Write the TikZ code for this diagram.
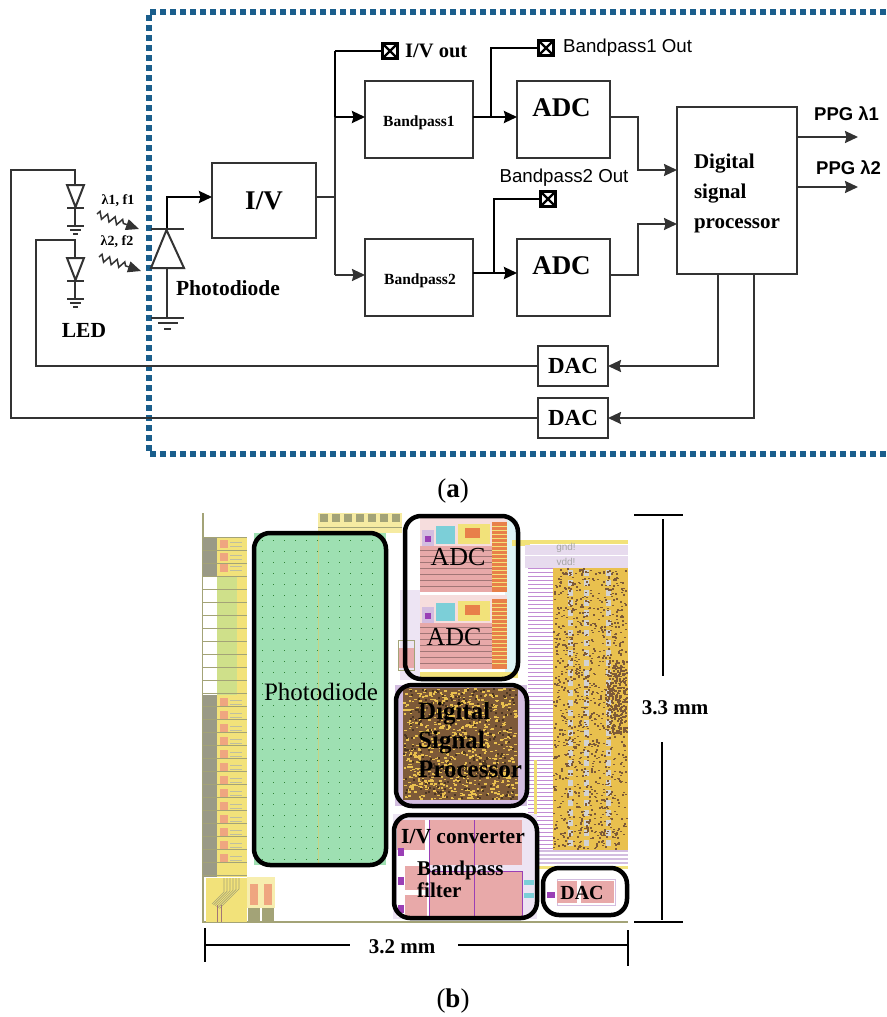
\documentclass[tikz,border=0pt]{standalone}
\usepackage{fontspec}
\setmainfont{Liberation Serif}
\newfontfamily\sansfont{Liberation Sans}
\usetikzlibrary{arrows.meta}
\usetikzlibrary{decorations.pathmorphing}

\definecolor{dashblue}{HTML}{1A5E8C}
\definecolor{wiregray}{HTML}{333333}
\definecolor{pdgreen}{HTML}{9EE0B2}
\definecolor{chippink}{HTML}{E8A9A9}
\definecolor{chipgold}{HTML}{E9C04E}
\definecolor{chipbrown}{HTML}{7D5A38}
\definecolor{chiplilac}{HTML}{D3BDE0}
\definecolor{chipyellow}{HTML}{F2E27A}
\definecolor{chipolive}{HTML}{A3A377}
\definecolor{chipgreen}{HTML}{CFE08A}
\definecolor{chipgrey}{HTML}{9A9A86}
\definecolor{chippurple}{HTML}{9A3FB5}
\definecolor{chiporange}{HTML}{E8804A}
\definecolor{chipcyan}{HTML}{7CCFD8}

\newcommand{\speckle}[8]{
  \foreach \i in {1,...,#5} {
    \pgfmathsetmacro\spx{#1+(#3-#7)*rnd}
    \pgfmathsetmacro\spy{#2+(#4-#8)*rnd}
    \fill[#6] (\spx,\spy) rectangle ++(#7,#8);
  }
}

\tikzset{
  >={Stealth[length=13pt,width=12pt,inset=1.5pt]},
  blockbox/.style={draw=wiregray, line width=2pt, fill=white, inner sep=0, outer sep=0, font=\bfseries},
  wire/.style={draw=wiregray, line width=2pt},
  boldwire/.style={draw=black, line width=2.4pt},
  lightwire/.style={wire, ->, line width=1.5pt, >={Stealth[length=13pt,width=11pt,inset=0pt]}, decorate,
    decoration={zigzag, amplitude=3.5pt, segment length=8pt, post length=13pt}},
  padbox/.style={draw=black, line width=3pt, fill=white, minimum size=15pt, inner sep=0, outer sep=1.5pt,
    path picture={\draw[line width=2.4pt] (path picture bounding box.north west)--(path picture bounding box.south east)
    (path picture bounding box.north east)--(path picture bounding box.south west);}},
  boldlabel/.style={font=\fontsize{17}{19}\selectfont\bfseries, inner sep=0},
  sanslabel/.style={font=\fontsize{18.7}{20}\selectfont\sansfont, inner sep=0},
  chipframe/.style={draw=black, line width=4.5pt, rounded corners=16pt},
  chiplabel/.style={inner sep=0, align=left},
  dimline/.style={draw=black, line width=2pt}
}

\begin{document}
\begin{tikzpicture}[x=1pt,y=-1pt]
\useasboundingbox (0,0) rectangle (886,1017);

% dashed frame
\draw[dashblue, line width=5.5pt, dash pattern=on 6pt off 4pt] (886,12)--(149,12)--(149,454)--(886,454);

% blocks of the circuit
\node[blockbox, minimum width=104pt, minimum height=75pt, font=\fontsize{27}{30}\selectfont\bfseries] (iv) at (264,200.5) {I/V};
\node[blockbox, minimum width=108pt, minimum height=77pt, label={[font=\fontsize{15.5}{17}\selectfont\bfseries, yshift=-3pt]center:Bandpass1}] (bp1) at (419,119.5) {};
\node[blockbox, minimum width=108pt, minimum height=77pt, label={[font=\fontsize{15.5}{17}\selectfont\bfseries, yshift=-3pt, xshift=1pt]center:Bandpass2}] (bp2) at (419,277.5) {};
\node[blockbox, minimum width=93pt, minimum height=77pt, label={[font=\fontsize{27}{30}\selectfont\bfseries, yshift=12pt, xshift=-2pt]center:ADC}] (adc1) at (563.5,119.5) {};
\node[blockbox, minimum width=93pt, minimum height=77pt, label={[font=\fontsize{27}{30}\selectfont\bfseries, yshift=12pt, xshift=-2pt]center:ADC}] (adc2) at (563.5,277.5) {};
\node[blockbox, minimum width=120pt, minimum height=167pt, label={[align=left, font=\fontsize{21}{30}\selectfont\bfseries, yshift=-3pt]center:Digital\\signal\\processor}] (dsp) at (737,190.5) {};
\node[blockbox, minimum width=70pt, minimum height=40pt, font=\fontsize{23}{26}\selectfont\bfseries] (dac1) at (573,366) {DAC};
\node[blockbox, minimum width=70pt, minimum height=40pt, font=\fontsize{23}{26}\selectfont\bfseries] (dac2) at (573,418) {DAC};

% test pads
\node[padbox] (padiv) at (390,51) {};
\node[padbox] (padbp1) at (546,48) {};
\node[padbox] (padbp2) at (548,199) {};
\node[boldlabel, anchor=west, font=\fontsize{20.5}{22}\selectfont\bfseries] (ivout) at (405,51) {I/V out};
\node[sanslabel, anchor=west] (bp1out) at (563,48) {Bandpass1 Out};
\node[sanslabel, anchor=center] (bp2out) at (564,178) {Bandpass2 Out};

% junctions
\coordinate (ivjoin) at (335,197);
\coordinate (pdtop) at (167,229);
\coordinate (pdbase) at (167,268);
\coordinate (pdgnd) at (167,318);
\coordinate (bp1tap) at (491,117);
\coordinate (bp2tap) at (494,273);
\coordinate (adc1turn) at (638,117);
\coordinate (adc2turn) at (638,275);
\coordinate (dspin1) at (677,170);
\coordinate (dspin2) at (677,224);
\coordinate (ppg1) at (858,137);
\coordinate (ppg2) at (858,187);
\coordinate (led1top) at (75,170);
\coordinate (led2top) at (75,240);

% wires
\draw[boldwire, ->] (pdtop) |- (212,197);
\draw[wire] (pdbase) -- (pdgnd);
\draw[wire] (316,197) -- (ivjoin);
\draw[boldwire] (ivjoin |- padiv) -- (padiv.west);
\draw[boldwire] (ivjoin |- padiv) -- (ivjoin |- bp1tap);
\draw[wire] (ivjoin |- bp1tap) -- (ivjoin |- 0,275);
\draw[boldwire, ->] (ivjoin |- bp1tap) -- (365,117);
\draw[wire, ->] (ivjoin |- 0,275) -- (365,275);
\draw[boldwire, ->] (473,117) -- (517,117);
\draw[boldwire, ->] (473,273) -- (517,273);
\draw[boldwire] (bp1tap) |- (padbp1.west);
\draw[boldwire] (bp2tap) |- (padbp2.west);
\draw[wire, ->] (610,117) -- (adc1turn) |- (dspin1);
\draw[wire, ->] (610,275) -- (adc2turn) |- (dspin2);
\draw[wire, ->] (797,137) -- (ppg1);
\draw[wire, ->] (797,187) -- (ppg2);
\draw[wire, ->] (718,274) |- (dac1.east);
\draw[wire, ->] (754,274) |- (dac2.east);
\draw[wire] (dac1.west) -| (36,240) -- (led2top) -- (75,258);
\draw[wire] (dac2.west) -| (11,170) -- (led1top) -- (75,185);

% photodiode and leds
\draw[wire] (151,268) -- (166.5,230) -- (184,268) -- cycle;
\draw[wire] (151,229) -- (184,229);
\draw[wire] (151,318) -- (184,318);
\draw[wire] (158,323) -- (178,323);
\draw[wire] (164,329) -- (171,329);
\foreach \ledy in {185,258} {
  \draw[wire] (67,\ledy) -- (84,\ledy) -- (75.5,\ledy+22) -- cycle;
  \draw[wire] (67,\ledy+23) -- (84,\ledy+23);
  \draw[wire] (75,\ledy+23) -- (75,\ledy+41);
  \draw[wire] (67,\ledy+41) -- (84,\ledy+41);
  \draw[wire] (70,\ledy+45) -- (81,\ledy+45);
  \draw[wire] (73,\ledy+49) -- (78,\ledy+49);
}

% light
\draw[lightwire] (97,214) -- (139,229);
\draw[lightwire] (99,257) -- (141,271);
\node[boldlabel, font=\fontsize{14}{16}\selectfont\bfseries] (lam1) at (118,201) {λ1, f1};
\node[boldlabel, font=\fontsize{14}{16}\selectfont\bfseries] (lam2) at (117,242) {λ2, f2};
\node[boldlabel, font=\fontsize{21.5}{23}\selectfont\bfseries] (pdname) at (228,288) {Photodiode};
\node[boldlabel, font=\fontsize{21.5}{23}\selectfont\bfseries] (ledname) at (84,330) {LED};
\node[boldlabel, font=\fontsize{18.5}{20}\selectfont\sansfont\bfseries, anchor=west] (ppgone) at (814,114) {PPG λ1};
\node[boldlabel, font=\fontsize{18.5}{20}\selectfont\sansfont\bfseries, anchor=west] (ppgtwo) at (816,168) {PPG λ2};
\node[inner sep=0, font=\fontsize{27}{30}\selectfont] (capa) at (453,491) {(\textbf{a})};

% chip: pad ring on the left
\pgfmathsetseed{7}
\draw[chipolive, line width=1.2pt] (203,513) -- (203,922) -- (628,922);
\fill[chipyellow] (217,537) rectangle (247,877);
\fill[chipgreen] (217,577) rectangle (237,695);
\fill[white] (203,577) rectangle (217,695);
\fill[chipgrey] (203,537) rectangle (217,577);
\fill[chipgrey] (203,695) rectangle (217,877);
\foreach \rowy in {537,550,...,877} {
  \draw[chipolive, line width=.8pt] (203,\rowy) -- (247,\rowy);
}
\foreach \rowy in {540,553,564,698,711,724,737,750,763,776,789,802,815,828,841,854} {
  \fill[chiporange!70!white] (220,\rowy) rectangle (228,\rowy+8);
  \draw[chipolive!70!white, line width=1pt] (230,\rowy+2) -- (242,\rowy+2) (230,\rowy+6) -- (242,\rowy+6);
}
\fill[chipyellow] (206,878) rectangle (247,922);
\foreach \k in {0,3,...,15} {
  \draw[chipolive, line width=.6pt] (224+\k,878) -- (224+\k,892-\k*.2) -- (212+\k*.5,904+\k*.3);
}
\draw[chippink!70!black, line width=.8pt] (217,905) -- (217,922) (221,905) -- (221,922);
\fill[chipyellow!60!white] (247,877) rectangle (275,908);
\fill[chiporange!70!white] (250,884) rectangle (258,905);
\fill[chiporange!70!white] (264,884) rectangle (272,905);
\fill[chipolive] (248,908) rectangle (260,921);
\fill[chipolive] (262,908) rectangle (274,921);

% chip: pads on top
\fill[chipyellow!70!white] (318,513) rectangle (402,533);
\foreach \padx in {320,332,...,392} {
  \fill[chipolive] (\padx,514) rectangle (\padx+8,522);
}
\draw[chipolive, line width=.8pt] (318,527) -- (402,527);

% chip: photodiode
\fill[pdgreen] (254,533) rectangle (386,865);
\draw[chipgreen!80!chipolive, line width=1pt] (318,533) -- (318,865);
\foreach \dotx in {262,273,...,382} {
  \foreach \doty in {540,551,...,862} {
    \fill[green!35!black!70!pdgreen] (\dotx,\doty) rectangle ++(1.2,1.2);
  }
}

% chip: adc
\fill[chiplilac!40!white] (400,590) rectangle (420,680);
\fill[chipcyan!25!white] (505,520) rectangle (518,672);
\fill[chipyellow] (512,540) rectangle (530,546);
\fill[chipyellow] (420,672) rectangle (518,678);
\foreach \adcy in {518,595} {
  \fill[chippink] (420,\adcy) rectangle (507,\adcy+74);
  \fill[chippink!40!white] (420,\adcy) rectangle (507,\adcy+28);
  \fill[chipcyan] (436,\adcy+8) rectangle (455,\adcy+26);
  \fill[chiplilac] (422,\adcy+12) rectangle (434,\adcy+28);
  \fill[chipyellow] (458,\adcy+6) rectangle (490,\adcy+26);
  \fill[chiporange] (465,\adcy+10) rectangle (480,\adcy+20);
  \fill[chippurple] (425,\adcy+18) rectangle (431,\adcy+24);
  \fill[chiporange] (492,\adcy+4) rectangle (507,\adcy+74);
  \foreach \adcrow in {32,38,...,68} {
    \draw[chippink!70!black, line width=.6pt] (420,\adcy+\adcrow) -- (492,\adcy+\adcrow);
  }
  \foreach \adcrow in {8,12,...,68} {
    \draw[chipyellow, line width=1pt] (492,\adcy+\adcrow) -- (507,\adcy+\adcrow);
  }
}
\fill[chippink] (398,648) rectangle (414,668);
\draw[chipolive, line width=.8pt] (398,640) rectangle (414,670);

% chip: dsp
\fill[chiplilac] (395,685) rectangle (527,806);
\fill[chipbrown] (403,688) rectangle (518,800);
\speckle{403}{688}{115}{112}{800}{chipgold}{2.5}{1.5}
\speckle{403}{688}{115}{112}{300}{chipbrown!60!black}{2}{2}

% chip: right part
\fill[chipyellow] (522,540) rectangle (628,544);
\fill[chiplilac!55!white] (525,545) rectangle (628,568);
\draw[white, line width=.8pt] (525,555) -- (628,555);
\node[inner sep=0, text=gray!70!white, font=\fontsize{10}{11}\selectfont\sansfont] (gndname) at (566,548) {gnd!};
\node[inner sep=0, text=gray!70!white, font=\fontsize{10}{11}\selectfont\sansfont] (vddname) at (566,562) {vdd!};
\foreach \hy in {568,572,...,850} {
  \draw[chippurple!60!white, line width=.9pt] (528,\hy) -- (553,\hy);
}
\fill[chipgold] (553,568) rectangle (628,850);
\foreach \colx in {568,584,606} {
  \foreach \coly in {570,580,...,845} {
    \fill[gray!35!white] (\colx,\coly) rectangle ++(5,6);
  }
}
\speckle{553}{568}{75}{282}{1100}{chipbrown}{2}{1.5}
\speckle{606}{660}{22}{75}{250}{chipbrown}{2}{2}
\fill[chipyellow!80!chipgold] (534,760) rectangle (537,815);
\foreach \hy in {851,855,...,866} {
  \draw[chiplilac, line width=1.2pt] (538,\hy) -- (628,\hy);
}

% chip: i/v and bandpass
\fill[chiplilac!40!white] (393,814) rectangle (537,919);
\fill[white] (397,820) rectangle (429,917);
\fill[chippink] (429,820) rectangle (522,865);
\fill[chippink] (429,871) rectangle (522,917);
\fill[chippink] (397,820) rectangle (425,850);
\fill[chippink] (405,866) rectangle (427,890);
\fill[chippink] (405,895) rectangle (427,917);
\draw[chippurple, line width=1pt] (474,820) -- (474,917) (429,820) -- (429,917) (522,871) -- (522,917) (429,871) -- (522,871);
\fill[chippurple] (398,848) rectangle (404,856);
\fill[chippurple] (398,877) rectangle (404,885);
\fill[chippurple] (398,905) rectangle (404,913);
\fill[chipcyan] (524,880) rectangle (534,885);
\fill[chipcyan] (524,893) rectangle (534,898);

% chip: dac
\fill[chipyellow] (537,866) rectangle (628,869);
\draw[chiplilac, line width=1pt] (557,879) rectangle (615,905);
\fill[chippink] (557,881) rectangle (577,903);
\fill[chippink] (581,881) rectangle (614,903);
\fill[chippurple] (547,892) rectangle (555,898);

% chip: frames and labels
\draw[chipframe] (254,533) rectangle (386,865);
\draw[chipframe] (405,516) rectangle (518,679);
\draw[chipframe] (396,685) rectangle (527,806);
\draw[chipframe] (394,815) rectangle (537,918);
\draw[chipframe] (543,868) rectangle (627,915);
\node[chiplabel, font=\fontsize{25}{27}\selectfont] (pdchip) at (321,692) {Photodiode};
\node[chiplabel, font=\fontsize{26}{28}\selectfont] (adcchip1) at (458,557) {ADC};
\node[chiplabel, font=\fontsize{26}{28}\selectfont] (adcchip2) at (454,637) {ADC};
\node[chiplabel, anchor=north west, font=\fontsize{25}{29}\selectfont\bfseries] (dspchip) at (418,702) {Digital\\Signal\\Processor};
\node[chiplabel, font=\fontsize{21.5}{23}\selectfont\bfseries] (ivchip) at (463,837) {I/V converter};
\node[chiplabel, anchor=north west, font=\fontsize{21}{22}\selectfont\bfseries] (bpchip) at (417,861) {Bandpass\\filter};
\node[chiplabel, font=\fontsize{20}{22}\selectfont\bfseries] (dacchip) at (582,893) {DAC};

% dimensions
\draw[dimline] (205,928) -- (205,962);
\draw[dimline] (628,930) -- (628,966);
\draw[dimline] (206,945) -- (350,945);
\draw[dimline] (458,945) -- (627,945);
\node[boldlabel, font=\fontsize{21}{23}\selectfont\bfseries] (widthname) at (402,947) {3.2 mm};
\draw[dimline] (634,515) -- (683,515);
\draw[dimline] (634,922) -- (683,922);
\draw[dimline] (663,519) -- (663,676);
\draw[dimline] (662,742) -- (662,920);
\node[boldlabel, font=\fontsize{21}{23}\selectfont\bfseries] (heightname) at (675,708) {3.3 mm};
\node[inner sep=0, font=\fontsize{27}{30}\selectfont] (capb) at (453,1001) {(\textbf{b})};
\end{tikzpicture}
\end{document}
